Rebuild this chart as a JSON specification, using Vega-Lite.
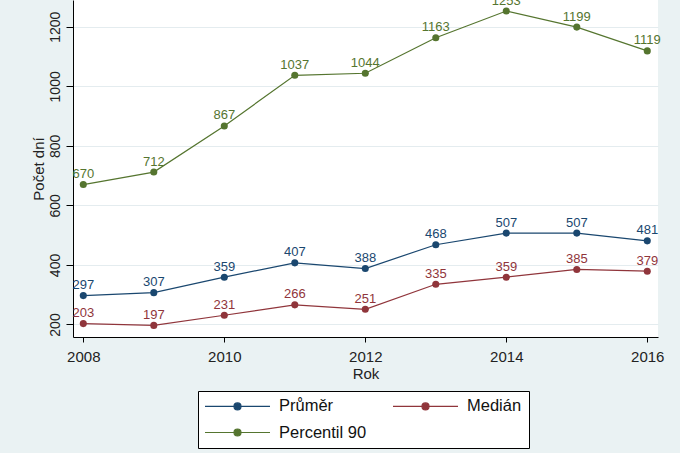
{
  "$schema": "https://vega.github.io/schema/vega-lite/v6.json",
  "width": 585,
  "height": 337,
  "autosize": {"type": "none"},
  "padding": {"left": 73, "top": 0, "right": 22, "bottom": 116},
  "background": "#eaf2f3",
  "config": {
    "view": {"fill": "white", "stroke": null},
    "font": "Liberation Sans"
  },
  "data": {
    "values": [
      {"Rok": 2008, "Ukazatel": "Průměr", "Hodnota": 297},
      {"Rok": 2009, "Ukazatel": "Průměr", "Hodnota": 307},
      {"Rok": 2010, "Ukazatel": "Průměr", "Hodnota": 359},
      {"Rok": 2011, "Ukazatel": "Průměr", "Hodnota": 407},
      {"Rok": 2012, "Ukazatel": "Průměr", "Hodnota": 388},
      {"Rok": 2013, "Ukazatel": "Průměr", "Hodnota": 468},
      {"Rok": 2014, "Ukazatel": "Průměr", "Hodnota": 507},
      {"Rok": 2015, "Ukazatel": "Průměr", "Hodnota": 507},
      {"Rok": 2016, "Ukazatel": "Průměr", "Hodnota": 481},
      {"Rok": 2008, "Ukazatel": "Medián", "Hodnota": 203},
      {"Rok": 2009, "Ukazatel": "Medián", "Hodnota": 197},
      {"Rok": 2010, "Ukazatel": "Medián", "Hodnota": 231},
      {"Rok": 2011, "Ukazatel": "Medián", "Hodnota": 266},
      {"Rok": 2012, "Ukazatel": "Medián", "Hodnota": 251},
      {"Rok": 2013, "Ukazatel": "Medián", "Hodnota": 335},
      {"Rok": 2014, "Ukazatel": "Medián", "Hodnota": 359},
      {"Rok": 2015, "Ukazatel": "Medián", "Hodnota": 385},
      {"Rok": 2016, "Ukazatel": "Medián", "Hodnota": 379},
      {"Rok": 2008, "Ukazatel": "Percentil 90", "Hodnota": 670},
      {"Rok": 2009, "Ukazatel": "Percentil 90", "Hodnota": 712},
      {"Rok": 2010, "Ukazatel": "Percentil 90", "Hodnota": 867},
      {"Rok": 2011, "Ukazatel": "Percentil 90", "Hodnota": 1037},
      {"Rok": 2012, "Ukazatel": "Percentil 90", "Hodnota": 1044},
      {"Rok": 2013, "Ukazatel": "Percentil 90", "Hodnota": 1163},
      {"Rok": 2014, "Ukazatel": "Percentil 90", "Hodnota": 1253},
      {"Rok": 2015, "Ukazatel": "Percentil 90", "Hodnota": 1199},
      {"Rok": 2016, "Ukazatel": "Percentil 90", "Hodnota": 1119}
    ]
  },
  "encoding": {
    "x": {
      "field": "Rok",
      "type": "quantitative",
      "scale": {"domain": [2007.854, 2016.152], "nice": false, "zero": false},
      "axis": {
        "title": "Rok",
        "values": [2008, 2010, 2012, 2014, 2016],
        "format": "d",
        "grid": false,
        "domainColor": "#000",
        "domainWidth": 1,
        "tickColor": "#000",
        "tickSize": 5,
        "labelFontSize": 15,
        "labelColor": "#222",
        "labelPadding": 7,
        "labelFlush": false,
        "titleFontSize": 15,
        "titleFontWeight": "normal",
        "titleColor": "#222",
        "titleBaseline": "alphabetic",
        "titleY": 41
      }
    },
    "y": {
      "field": "Hodnota",
      "type": "quantitative",
      "scale": {"domain": [158, 1290], "nice": false, "zero": false},
      "axis": {
        "title": "Počet dní",
        "values": [200, 400, 600, 800, 1000, 1200],
        "format": "d",
        "grid": true,
        "gridColor": "#e4ecef",
        "gridWidth": 1,
        "domainColor": "#000",
        "domainWidth": 1,
        "tickColor": "#000",
        "tickSize": 7,
        "labelAngle": 270,
        "labelAlign": "center",
        "labelBaseline": "alphabetic",
        "labelPadding": 7,
        "labelFontSize": 14,
        "labelColor": "#222",
        "titleFontSize": 15,
        "titleFontWeight": "normal",
        "titleColor": "#222",
        "titleAngle": 270,
        "titleBaseline": "alphabetic",
        "titleX": -30
      }
    },
    "color": {
      "field": "Ukazatel",
      "type": "nominal",
      "scale": {
        "domain": ["Průměr", "Medián", "Percentil 90"],
        "range": ["#1a476f", "#90353b", "#55752f"]
      },
      "legend": {
        "title": null,
        "orient": "none",
        "direction": "horizontal",
        "legendX": 125,
        "legendY": 391,
        "columns": 2,
        "columnPadding": 23,
        "rowPadding": 9.25,
        "padding": 7,
        "fillColor": "white",
        "strokeColor": "#000",
        "cornerRadius": 0,
        "symbolType": "M-1.65,0H11.35M4.15,0a0.7,0.7 0 1,0 1.4,0a0.7,0.7 0 1,0 -1.4,0",
        "symbolSize": 100,
        "symbolStrokeWidth": 1.2,
        "symbolOffset": 0,
        "labelOffset": 57.5,
        "labelFontSize": 16.5,
        "labelFontWeight": "normal",
        "labelColor": "#111",
        "labelBaseline": "middle",
        "encode": {
          "symbols": {
            "update": {
              "fill": {"scale": "color", "field": "value"},
              "stroke": {"scale": "color", "field": "value"}
            }
          }
        }
      }
    }
  },
  "layer": [
    {
      "mark": {"type": "line", "strokeWidth": 1.2},
      "encoding": {}
    },
    {
      "mark": {"type": "point", "filled": true, "size": 50, "opacity": 1},
      "encoding": {}
    },
    {
      "mark": {"type": "text", "baseline": "alphabetic", "align": "center", "dy": -6.5, "fontSize": 13},
      "encoding": {
        "text": {"field": "Hodnota", "type": "quantitative", "format": "d"}
      }
    }
  ]
}
